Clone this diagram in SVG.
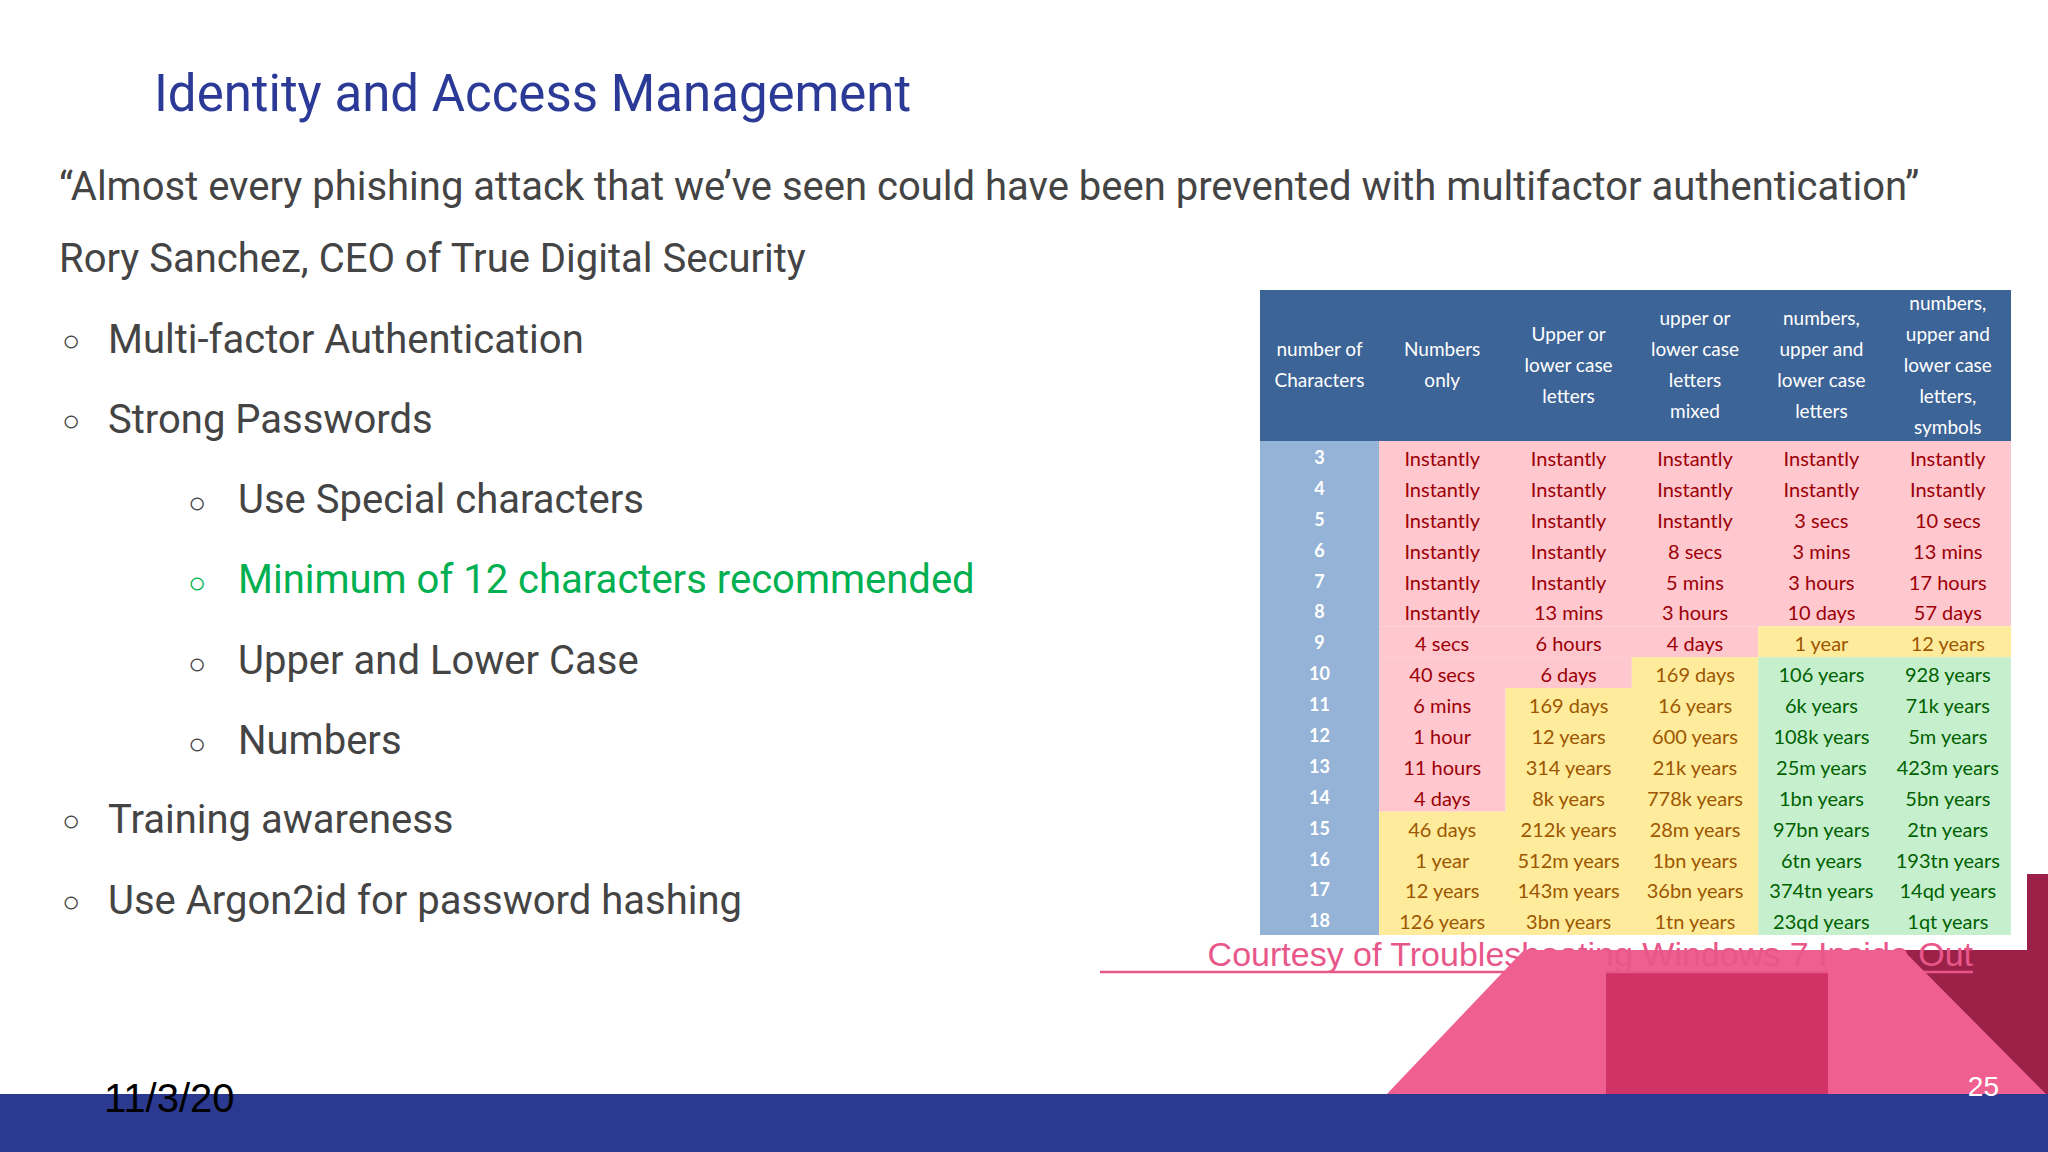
<svg xmlns="http://www.w3.org/2000/svg" width="2048" height="1152" viewBox="0 0 2048 1152">
<style>
.t{font-family:Roboto,"Liberation Sans",sans-serif;fill:#444}
.b{font-size:40px}
.o{font-family:"Liberation Sans",sans-serif;font-size:30px}
.h{font-family:Lato,"Liberation Sans",sans-serif;font-size:19px;fill:#fff;text-anchor:middle}
.c{font-family:Lato,"Liberation Sans",sans-serif;font-size:20px;text-anchor:middle}
.n{font-family:Lato,"Liberation Sans",sans-serif;font-size:18px;font-weight:bold;fill:#fff;text-anchor:middle}
.P{fill:#ffc7ce}.Y{fill:#ffeb9c}.G{fill:#c6efce}
.pt{fill:#9c0006}.yt{fill:#9c5700}.gt{fill:#006100}
.pk{fill:#ef5f8f}
</style>
<rect width="2048" height="1152" fill="#fff"/>
<g id="deco-back">
<polygon points="1903,950 2027,950 2027,874 2048,874 2048,1096 1903,1096" fill="#9b2148"/>
<rect class="pk" x="1606" y="950" width="222" height="146"/>
<rect x="1606" y="973" width="222" height="123" fill="#d13367"/>
</g>
<g id="text">
<text x="154" y="111" font-family="Roboto,'Liberation Sans',sans-serif" font-size="51" fill="#2b3a96">Identity and Access Management</text>
<text class="t b" x="59" y="200">“Almost every phishing attack that we’ve seen could have been prevented with multifactor authentication”</text>
<text class="t b" x="59" y="272">Rory Sanchez, CEO of True Digital Security</text>
<g class="t b">
<text class="o" x="62" y="351">○</text><text x="108" y="353">Multi-factor Authentication</text>
<text class="o" x="62" y="431">○</text><text x="108" y="433">Strong Passwords</text>
<text class="o" x="188" y="513">○</text><text x="238" y="513">Use Special characters</text>
<text class="o" x="188" y="593" fill="#00b050">○</text><text x="238" y="593" fill="#00b050">Minimum of 12 characters recommended</text>
<text class="o" x="188" y="674">○</text><text x="238" y="674">Upper and Lower Case</text>
<text class="o" x="188" y="754">○</text><text x="238" y="754">Numbers</text>
<text class="o" x="62" y="831">○</text><text x="108" y="833">Training awareness</text>
<text class="o" x="62" y="912">○</text><text x="108" y="914">Use Argon2id for password hashing</text>
</g>
<text x="1973" y="966" font-family="'Liberation Sans',sans-serif" font-size="34" fill="#e8578a" text-anchor="end">Courtesy of Troubleshooting Windows 7 Inside Out</text>
<line x1="1100" y1="972" x2="1973" y2="972" stroke="#e8578a" stroke-width="2.5"/>
</g>
<g id="deco-front">
<polygon class="pk" points="1385,1096 1524,950 1606,950 1606,1096"/>
<polygon class="pk" points="1828,950 1903,950 2048,1096 1828,1096"/>
<rect x="0" y="1094" width="2048" height="58" fill="#2b3990"/>
<text x="104" y="1112" font-family="'Liberation Sans',sans-serif" font-size="40" fill="#000">11/3/20</text>
<text x="1999" y="1096" font-family="'Liberation Sans',sans-serif" font-size="28" fill="#fff" text-anchor="end">25</text>
</g>
<g id="table">
<rect x="1260" y="290" width="751" height="151" fill="#3d6497"/>
<rect x="1260" y="441" width="119" height="494" fill="#95b3d7"/>
<text class="h"><tspan x="1319.5" y="356">number of</tspan><tspan x="1319.5" y="387">Characters</tspan></text>
<text class="h"><tspan x="1442.2" y="356">Numbers</tspan><tspan x="1442.2" y="387">only</tspan></text>
<text class="h"><tspan x="1568.6" y="341">Upper or</tspan><tspan x="1568.6" y="372">lower case</tspan><tspan x="1568.6" y="403">letters</tspan></text>
<text class="h"><tspan x="1695" y="325">upper or</tspan><tspan x="1695" y="356">lower case</tspan><tspan x="1695" y="387">letters</tspan><tspan x="1695" y="418">mixed</tspan></text>
<text class="h"><tspan x="1821.4" y="325">numbers,</tspan><tspan x="1821.4" y="356">upper and</tspan><tspan x="1821.4" y="387">lower case</tspan><tspan x="1821.4" y="418">letters</tspan></text>
<text class="h"><tspan x="1947.8" y="310">numbers,</tspan><tspan x="1947.8" y="341">upper and</tspan><tspan x="1947.8" y="372">lower case</tspan><tspan x="1947.8" y="403">letters,</tspan><tspan x="1947.8" y="434">symbols</tspan></text>
<g id="cells">
<rect class="P" x="1379" y="441" width="632" height="185.25"/>
<rect class="P" x="1379" y="626.25" width="379.2" height="30.875"/><rect class="Y" x="1758.2" y="626.25" width="252.8" height="30.875"/>
<rect class="P" x="1379" y="657.125" width="252.8" height="30.875"/><rect class="Y" x="1631.8" y="657.125" width="126.4" height="30.875"/><rect class="G" x="1758.2" y="657.125" width="252.8" height="30.875"/>
<rect class="Y" x="1505.4" y="688" width="252.8" height="154.375"/><rect class="G" x="1758.2" y="688" width="252.8" height="247"/>
<rect class="Y" x="1379" y="811.5" width="379.2" height="123.5"/>
<rect class="P" x="1379" y="688" width="126.4" height="123.5"/>
</g>
<g class="n">
<text x="1319.5" y="464">3</text><text x="1319.5" y="495">4</text><text x="1319.5" y="526">5</text><text x="1319.5" y="557">6</text>
<text x="1319.5" y="588">7</text><text x="1319.5" y="618">8</text><text x="1319.5" y="649">9</text><text x="1319.5" y="680">10</text>
<text x="1319.5" y="711">11</text><text x="1319.5" y="742">12</text><text x="1319.5" y="773">13</text><text x="1319.5" y="804">14</text>
<text x="1319.5" y="835">15</text><text x="1319.5" y="866">16</text><text x="1319.5" y="896">17</text><text x="1319.5" y="927">18</text>
</g>
<g class="c">
<g class="pt">
<text x="1442.2" y="466">Instantly</text><text x="1568.6" y="466">Instantly</text><text x="1695" y="466">Instantly</text><text x="1821.4" y="466">Instantly</text><text x="1947.8" y="466">Instantly</text>
<text x="1442.2" y="497">Instantly</text><text x="1568.6" y="497">Instantly</text><text x="1695" y="497">Instantly</text><text x="1821.4" y="497">Instantly</text><text x="1947.8" y="497">Instantly</text>
<text x="1442.2" y="528">Instantly</text><text x="1568.6" y="528">Instantly</text><text x="1695" y="528">Instantly</text><text x="1821.4" y="528">3 secs</text><text x="1947.8" y="528">10 secs</text>
<text x="1442.2" y="559">Instantly</text><text x="1568.6" y="559">Instantly</text><text x="1695" y="559">8 secs</text><text x="1821.4" y="559">3 mins</text><text x="1947.8" y="559">13 mins</text>
<text x="1442.2" y="590">Instantly</text><text x="1568.6" y="590">Instantly</text><text x="1695" y="590">5 mins</text><text x="1821.4" y="590">3 hours</text><text x="1947.8" y="590">17 hours</text>
<text x="1442.2" y="620">Instantly</text><text x="1568.6" y="620">13 mins</text><text x="1695" y="620">3 hours</text><text x="1821.4" y="620">10 days</text><text x="1947.8" y="620">57 days</text>
<text x="1442.2" y="651">4 secs</text><text x="1568.6" y="651">6 hours</text><text x="1695" y="651">4 days</text>
<text x="1442.2" y="682">40 secs</text><text x="1568.6" y="682">6 days</text>
<text x="1442.2" y="713">6 mins</text><text x="1442.2" y="744">1 hour</text><text x="1442.2" y="775">11 hours</text><text x="1442.2" y="806">4 days</text>
</g>
<g class="yt">
<text x="1821.4" y="651">1 year</text><text x="1947.8" y="651">12 years</text>
<text x="1695" y="682">169 days</text>
<text x="1568.6" y="713">169 days</text><text x="1695" y="713">16 years</text>
<text x="1568.6" y="744">12 years</text><text x="1695" y="744">600 years</text>
<text x="1568.6" y="775">314 years</text><text x="1695" y="775">21k years</text>
<text x="1568.6" y="806">8k years</text><text x="1695" y="806">778k years</text>
<text x="1442.2" y="837">46 days</text><text x="1568.6" y="837">212k years</text><text x="1695" y="837">28m years</text>
<text x="1442.2" y="868">1 year</text><text x="1568.6" y="868">512m years</text><text x="1695" y="868">1bn years</text>
<text x="1442.2" y="898">12 years</text><text x="1568.6" y="898">143m years</text><text x="1695" y="898">36bn years</text>
<text x="1442.2" y="929">126 years</text><text x="1568.6" y="929">3bn years</text><text x="1695" y="929">1tn years</text>
</g>
<g class="gt">
<text x="1821.4" y="682">106 years</text><text x="1947.8" y="682">928 years</text>
<text x="1821.4" y="713">6k years</text><text x="1947.8" y="713">71k years</text>
<text x="1821.4" y="744">108k years</text><text x="1947.8" y="744">5m years</text>
<text x="1821.4" y="775">25m years</text><text x="1947.8" y="775">423m years</text>
<text x="1821.4" y="806">1bn years</text><text x="1947.8" y="806">5bn years</text>
<text x="1821.4" y="837">97bn years</text><text x="1947.8" y="837">2tn years</text>
<text x="1821.4" y="868">6tn years</text><text x="1947.8" y="868">193tn years</text>
<text x="1821.4" y="898">374tn years</text><text x="1947.8" y="898">14qd years</text>
<text x="1821.4" y="929">23qd years</text><text x="1947.8" y="929">1qt years</text>
</g>
</g>
</g>
</svg>
